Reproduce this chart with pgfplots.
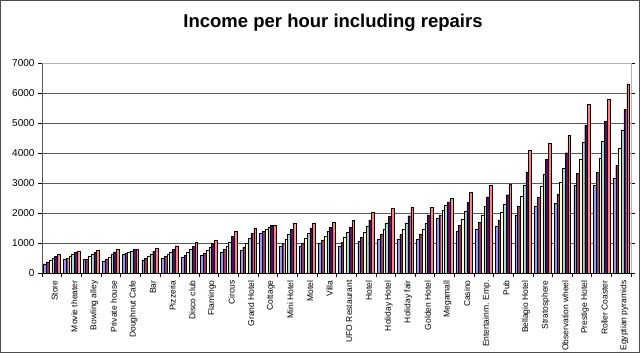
\documentclass[border=0pt]{standalone}
\usepackage{pgfplots}
\pgfplotsset{compat=1.18}
\usepackage{pgfplotstable}
\usepackage{fontspec}
\setmainfont{Liberation Sans}
\definecolor{sA}{HTML}{9999FF}
\definecolor{sB}{HTML}{993366}
\definecolor{sC}{HTML}{FFFFCC}
\definecolor{sD}{HTML}{AADAD4}
\definecolor{sE}{HTML}{660066}
\definecolor{sF}{HTML}{FF8080}
\pgfplotstableread{
x a b c d e f
0 310 370 440 480 560 620
1 450 480 560 620 680 740
2 450 470 560 630 680 760
3 400 470 530 630 700 790
4 630 670 700 740 790 790
5 420 480 560 630 730 830
6 480 560 630 700 790 910
7 530 590 700 790 890 1030
8 590 650 760 870 980 1090
9 690 780 890 1040 1230 1380
10 760 870 980 1150 1320 1500
11 1340 1390 1450 1540 1590 1590
12 890 980 1130 1290 1460 1670
13 890 1000 1150 1330 1480 1670
14 980 1100 1240 1380 1530 1680
15 890 1030 1180 1350 1530 1760
16 1050 1190 1350 1550 1770 2020
17 1130 1300 1460 1670 1900 2150
18 1130 1280 1460 1670 1910 2200
19 1130 1280 1460 1670 1930 2200
20 1820 1920 2100 2260 2370 2480
21 1390 1590 1800 2050 2350 2690
22 1460 1690 1940 2220 2540 2920
23 1550 1770 2020 2290 2610 2950
24 1930 2240 2560 2930 3370 4080
25 2220 2530 2900 3310 3790 4330
26 2320 2640 3040 3500 4010 4590
27 2920 3330 3810 4350 4940 5630
28 2920 3360 3830 4400 5050 5800
29 3150 3590 4150 4760 5460 6310
}\data
\begin{document}
\begin{tikzpicture}
\useasboundingbox (0,0) rectangle (640pt,353pt);
\draw[gray!60!black, line width=0.8pt] (0.4pt,0.4pt) rectangle (639.6pt,352.6pt);
\node[font=\fontsize{18.5}{22}\selectfont\bfseries] at (333pt,330pt) {Income per hour including repairs};
\begin{axis}[
  at={(42pt,80pt)}, anchor=south west,
  scale only axis, width=589pt, height=210pt,
  ybar=0pt, bar width=2.75pt,
  xmin=-0.5, xmax=29.5, ymin=0, ymax=7000,
  ytick={0,1000,...,7000},
  xtick={0,...,29},
  xticklabels={Store,Movie theater,Bowling alley,Private house,Doughnut Cafe,Bar,Pizzeria,Disco club,Flamingo,Circus,Grand Hotel,Cottage,Mini Hotel,Motel,Villa,UFO Restaurant,Hotel,Holiday Hotel,Holiday fair,Golden Hotel,Megamall,Casino,Entertainm. Emp.,Pub,Bellagio Hotel,Stratosphere,Observation wheel,Prestige Hotel,Roller Coaster,Egyptian pyramids},
  minor xtick={-0.5,0.5,...,29.5},
  xtick style={draw=none},
  minor x tick style={draw=black, line width=0.5pt},
  ytick style={draw=black, line width=0.5pt},
  tick align=outside, major tick length=4pt, minor tick length=4pt,
  xticklabel style={rotate=90, anchor=east, font=\fontsize{8.5}{9}\selectfont, yshift=-3pt},
  yticklabel style={font=\fontsize{10}{12}\selectfont},
  /pgf/number format/assume math mode=true,
  scaled y ticks=false,
  yticklabel={\pgfmathprintnumber[fixed,1000 sep={}]{\tick}},
  ymajorgrids, major grid style={gray!70!black, line width=0.6pt},
  axis line style={gray!70!black, line width=0.6pt},
  axis x line*=bottom,
  every axis plot/.append style={draw=black, line width=0.3pt},
  clip=false,
]
\draw[gray!60, line width=0.6pt] (rel axis cs:0,1) -- (rel axis cs:1,1) -- (rel axis cs:1,0);
\addplot[fill=sA] table[x=x,y=a]{\data};
\addplot[fill=sB] table[x=x,y=b]{\data};
\addplot[fill=sC] table[x=x,y=c]{\data};
\addplot[fill=sD] table[x=x,y=d]{\data};
\addplot[fill=sE] table[x=x,y=e]{\data};
\addplot[fill=sF] table[x=x,y=f]{\data};
\draw[black, line width=0.6pt] (rel axis cs:0,0) -- (rel axis cs:1,0);
\end{axis}
\end{tikzpicture}
\end{document}
